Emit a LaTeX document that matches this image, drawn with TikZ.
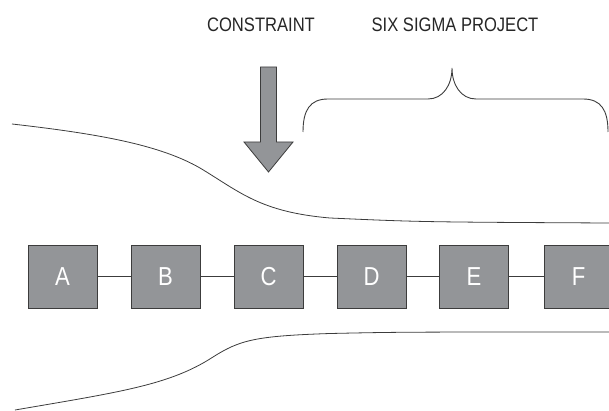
\documentclass[tikz,border=0pt]{standalone}
\usepackage{fontspec}
\newfontfamily\narrowsans[FakeStretch=0.85]{Liberation Sans}
\usetikzlibrary{calc}
\definecolor{boxgray}{RGB}{147,149,152}
\definecolor{linegray}{RGB}{60,60,60}

\begin{document}
\begin{tikzpicture}[x=1pt, y=-1pt]
				\useasboundingbox (0,0) rectangle (609,411);
				\begin{scope}[every node/.style={draw=linegray, line width=0.9pt, fill=boxgray, text=white, minimum width=69pt, minimum height=63pt, inner sep=0, font=\narrowsans\fontsize{26}{26}\selectfont}]
				\node (sa) at (62.5,276.5) {A};
				\node (sb) at (165.5,276.5) {B};
				\node (sc) at (268.5,276.5) {C};
				\node (sd) at (371.5,276.5) {D};
				\node (se) at (474,276.5) {E};
				\node (sf) at (578.5,276.5) {F};
				\end{scope}
				
				\draw[-, color=linegray, line width=0.8pt] (sa) -- (sb);
				\draw[-, color=linegray, line width=0.8pt] (sb) -- (sc);
				\draw[-, color=linegray, line width=0.8pt] (sc) -- (sd);
				\draw[-, color=linegray, line width=0.8pt] (sd) -- (se);
				\draw[-, color=linegray, line width=0.8pt] (se) -- (sf);
				
				% funnel walls
				\draw[color=linegray, line width=0.8pt] (12,124) .. controls (100,134) and (160,145) .. (200,168) .. controls (240,192) and (260,212) .. (330,218) .. controls (420,222) .. (609,223);
				\draw[color=linegray, line width=0.8pt] (15,410) .. controls (120,392) and (170,385) .. (213,357) .. controls (240,340) and (255,336) .. (330,333.5) .. controls (400,332) .. (609,332);
				
				% constraint arrow
				\draw[linegray, line width=0.8pt, fill=boxgray, line join=miter] (260.5,67) -- (276.5,67) -- (276.5,142) -- (293,142) -- (268.5,172) -- (244,142) -- (260.5,142) -- cycle;
				
				% brace over D, E, F
				\draw[color=linegray, line width=0.9pt] (303,132) .. controls (303,110) and (310,99) .. (328,99) -- (428,99) .. controls (443,99) and (452,85) .. (452,68) .. controls (452,85) and (461,99) .. (476,99) -- (583,99) .. controls (601,99) and (608,110) .. (608,132);
				
				\node[anchor=base, font=\narrowsans\fontsize{19.5}{19.5}\selectfont, text=black!85] (constraint) at (261,32) {CONSTRAINT};
				\node[anchor=base, font=\narrowsans\fontsize{19.5}{19.5}\selectfont, text=black!85] (project) at (455,32) {SIX SIGMA PROJECT};
\end{tikzpicture}
\end{document}
